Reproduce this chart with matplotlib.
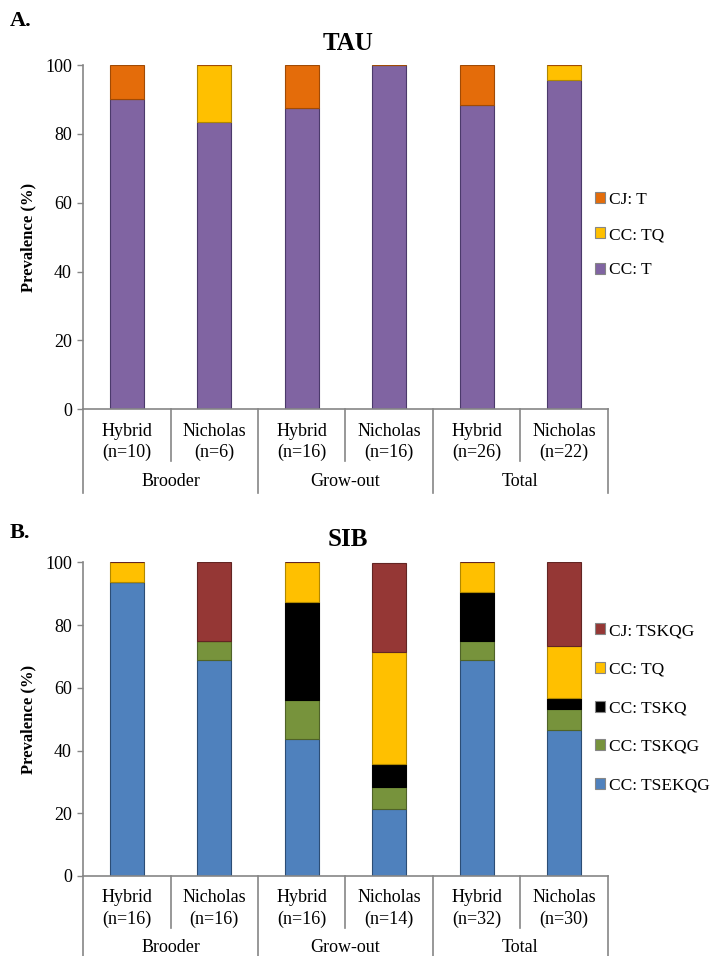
import numpy as np
import matplotlib.pyplot as plt
import matplotlib.transforms as mtransforms
from matplotlib.patches import Patch

plt.rcParams['font.family'] = ['Liberation Serif', 'DejaVu Serif']

# ---------- data ----------
cats = ["Hybrid", "Nicholas", "Hybrid", "Nicholas", "Hybrid", "Nicholas"]
groups = ["Brooder", "Grow-out", "Total"]

tau_n = [10, 6, 16, 16, 26, 22]
tau_series = ["CC: T", "CC: TQ", "CJ: T"]
tau_cc_t = [90.0, 83.3, 87.5, 100.0, 88.5, 95.5]
tau_cc_tq = [0.0, 16.7, 0.0, 0.0, 0.0, 4.5]
tau_cj_t = [10.0, 0.0, 12.5, 0.0, 11.5, 0.0]
tau_colors = ["#8064A2", "#FFC000", "#E46C0A"]
tau_edges = ["#4B3A6B", "#B08800", "#A04A05"]

sib_n = [16, 16, 16, 14, 32, 30]
sib_series = ["CC: TSEKQG", "CC: TSKQG", "CC: TSKQ", "CC: TQ", "CJ: TSKQG"]
sib_tsekqg = [93.75, 68.75, 43.75, 21.4, 68.75, 46.7]
sib_tskqg = [0.0, 6.25, 12.5, 7.1, 6.25, 6.7]
sib_tskq = [0.0, 0.0, 31.25, 7.1, 15.6, 3.3]
sib_tq = [6.25, 0.0, 12.5, 35.7, 9.4, 16.7]
sib_cj = [0.0, 25.0, 0.0, 28.6, 0.0, 26.6]
sib_colors = ["#4F81BD", "#77933C", "#000000", "#FFC000", "#953735"]
sib_edges = ["#2C4D75", "#4F6228", "#000000", "#B08800", "#632523"]

W, H = 716, 956
fig = plt.figure(figsize=(W / 100, H / 100), dpi=100)
ax1 = fig.add_axes([0.116, 0.572, 0.733, 0.360])
ax2 = fig.add_axes([0.116, 0.0837, 0.733, 0.328])

x = np.arange(len(cats))
axis_grey = "#868686"


def draw_panel(ax, series_vals, names, colors, edges, ns, title, title_y, legend_y, spacing):
    bottom = np.zeros(len(cats))
    handles = []
    for vals, name, c, e in zip(series_vals, names, colors, edges):
        vals = np.array(vals)
        ax.bar(x, vals, 0.39, bottom=bottom, color=c, edgecolor=e, linewidth=0.8)
        bottom += vals
        handles.append(Patch(facecolor=c, edgecolor=axis_grey, linewidth=0.8, label=name))

    ax.set_xlim(-0.5, len(cats) - 0.5)
    ax.set_ylim(0, 100)
    ax.set_yticks([0, 20, 40, 60, 80, 100])
    ax.tick_params(axis='y', labelsize=13, length=4, color=axis_grey, width=1, pad=4)
    ax.set_xticks([])
    for s in ["top", "right"]:
        ax.spines[s].set_visible(False)
    for s in ["left", "bottom"]:
        ax.spines[s].set_color(axis_grey)
        ax.spines[s].set_linewidth(1.2)
    ax.set_ylabel("Prevalence (%)", fontsize=12, fontweight='bold', labelpad=6)
    fig.text(348 / W, 1 - title_y / H, title, fontsize=18, fontweight='bold',
             ha='center', va='center')

    # two-level category axis
    tr = ax.get_xaxis_transform()
    def off(dy):
        return mtransforms.offset_copy(tr, fig=fig, y=-dy, units='dots')
    for i, (c, n) in enumerate(zip(cats, ns)):
        ax.text(i, 0, c, transform=off(22), ha='center', va='center', fontsize=13)
        ax.text(i, 0, "(n=%d)" % n, transform=off(43), ha='center', va='center', fontsize=13)
    for j, g in enumerate(groups):
        ax.text(2 * j + 0.5, 0, g, transform=off(72), ha='center', va='center', fontsize=13)
    for b in np.arange(-0.5, len(cats), 1.0):
        depth = 84 if (b + 0.5) % 2 == 0 else 52
        p0 = tr.transform((b, 0))
        ax.add_line(plt.Line2D([p0[0], p0[0]], [p0[1], p0[1] - depth], transform=None,
                               color=axis_grey, linewidth=1.2, clip_on=False))

    fig.legend(handles=handles[::-1], loc='upper left', bbox_to_anchor=(595 / W, legend_y),
               frameon=False, fontsize=12.5, handlelength=0.6, handleheight=0.6,
               handletextpad=0.2, labelspacing=spacing, borderaxespad=0, borderpad=0)


draw_panel(ax1, [tau_cc_t, tau_cc_tq, tau_cj_t], tau_series, tau_colors, tau_edges,
           tau_n, "TAU", 43, 1 - 192 / H, 1.1)
draw_panel(ax2, [sib_tsekqg, sib_tskqg, sib_tskq, sib_tq, sib_cj], sib_series,
           sib_colors, sib_edges, sib_n, "SIB", 539, 1 - 623 / H, 1.3)

fig.text(10 / W, 1 - 21 / H, "A.", fontsize=16, fontweight='bold', va='center')
fig.text(10 / W, 1 - 533 / H, "B.", fontsize=16, fontweight='bold', va='center')

fig.savefig("out.png", dpi=100)
